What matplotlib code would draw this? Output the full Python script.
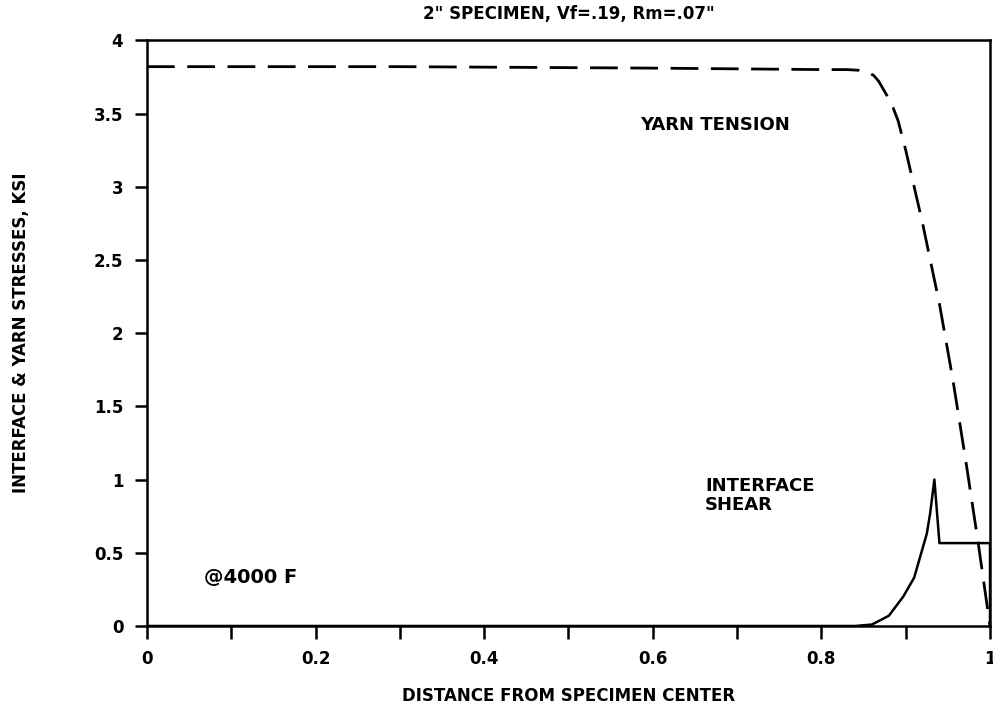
import matplotlib
matplotlib.use("Agg")
import matplotlib.pyplot as plt

plt.rcParams["font.family"] = ["DejaVu Sans"]
plt.rcParams["font.weight"] = "bold"

# yarn tension (dashed)
tension_x = [0.0, 0.3, 0.6, 0.80, 0.83, 0.845, 0.854, 0.862, 0.868, 0.873, 0.879, 0.885, 0.891, 0.90, 0.92, 0.94, 0.956, 0.972, 0.986, 1.0]
tension_y = [3.82, 3.82, 3.81, 3.80, 3.80, 3.795, 3.785, 3.76, 3.72, 3.67, 3.61, 3.54, 3.45, 3.25, 2.75, 2.2, 1.68, 1.1, 0.566, 0.0]

# interface shear (solid)
shear_x = [0.0, 0.84, 0.86, 0.88, 0.897, 0.91, 0.917, 0.925, 0.929, 0.934, 0.94, 1.0, 1.0]
shear_y = [0.0, 0.0, 0.01, 0.07, 0.2, 0.33, 0.47, 0.63, 0.77, 1.0, 0.566, 0.566, 0.0]

x_ticks = [0, 0.2, 0.4, 0.6, 0.8, 1]
x_labels = ["0", "0.2", "0.4", "0.6", "0.8", "1"]
y_ticks = [0, 0.5, 1, 1.5, 2, 2.5, 3, 3.5, 4]
y_labels = ["0", "0.5", "1", "1.5", "2", "2.5", "3", "3.5", "4"]

fig = plt.figure(figsize=(9.93, 7.07), dpi=100)
ax = fig.add_axes([0.148, 0.1146, 0.849, 0.8284])

ax.plot(tension_x, tension_y, color="black", lw=2, dashes=(10, 4.5))
ax.plot(shear_x, shear_y, color="black", lw=1.8)

ax.set_xlim(0, 1)
ax.set_ylim(0, 4)
ax.set_xticks(x_ticks)
ax.set_xticklabels(x_labels)
ax.set_xticks([0.1, 0.3, 0.5, 0.7, 0.9], minor=True)
ax.set_yticks(y_ticks)
ax.set_yticklabels(y_labels)
ax.tick_params(axis="both", which="both", direction="out", width=1.8, labelsize=12)
ax.tick_params(axis="both", which="major", length=9, pad=8)
ax.tick_params(axis="x", which="minor", length=9)
for s in ax.spines.values():
    s.set_linewidth(1.8)

ax.set_title('2" SPECIMEN, Vf=.19, Rm=.07"', fontsize=12, fontweight="bold", pad=15)
ax.set_xlabel("DISTANCE FROM SPECIMEN CENTER", fontsize=12, fontweight="bold", labelpad=14)
ax.set_ylabel("INTERFACE & YARN STRESSES, KSI", fontsize=12, fontweight="bold", labelpad=46)

ax.text(0.585, 3.42, "YARN TENSION", fontsize=13, fontweight="bold", va="center")
ax.text(0.662, 0.89, "INTERFACE\nSHEAR", fontsize=13, fontweight="bold", va="center",
        linespacing=1.1)
ax.text(0.068, 0.33, "@4000 F", fontsize=14, fontweight="bold", va="center")

fig.savefig("out.png", dpi=100)
